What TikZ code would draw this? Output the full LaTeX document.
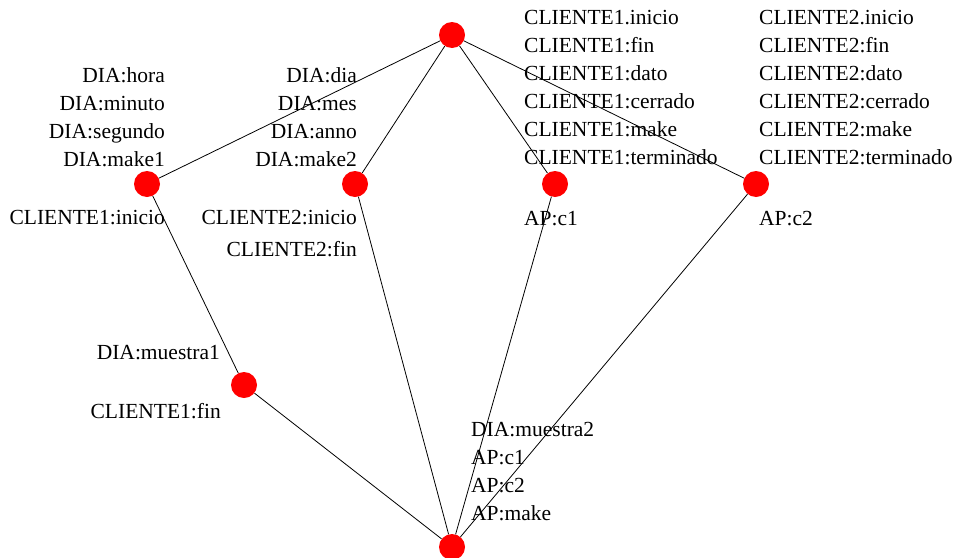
\documentclass[tikz,border=0pt]{standalone}
\usepackage{fontspec}
\setmainfont{Liberation Serif}

\begin{document}
\begin{tikzpicture}[x=1pt,y=-1pt,
  st/.style={circle,fill=red,inner sep=0pt,minimum size=26pt},
  lbl/.style={inner sep=0pt,font=\fontsize{21.5}{28}\selectfont},
  lblr/.style={lbl,align=right,anchor=east},
  lbll/.style={lbl,align=left,anchor=west},
  ln/.style={line width=0.8pt}]
\useasboundingbox (0,0) rectangle (955,557);
\node[st] (top) at (452,35) {};
\node[st] (dia1) at (147,184) {};
\node[st] (dia2) at (355,184) {};
\node[st] (cli1) at (555,184) {};
\node[st] (cli2) at (756,184) {};
\node[st] (mue) at (244,385) {};
\node[st] (ap) at (452,547) {};
\draw[ln] (top)--(dia1);
\draw[ln] (top)--(dia2);
\draw[ln] (top)--(cli1);
\draw[ln] (top)--(cli2);
\draw[ln] (dia1)--(mue);
\draw[ln] (mue)--(ap);
\draw[ln] (dia2)--(ap);
\draw[ln] (cli1)--(ap);
\draw[ln] (cli2)--(ap);
% etiquetas
\node[lblr] (dia1in) at (165,117) {DIA:hora\\DIA:minuto\\DIA:segundo\\DIA:make1};
\node[lblr] (dia1out) at (165,218) {CLIENTE1:inicio};
\node[lblr] (dia2in) at (357,117) {DIA:dia\\DIA:mes\\DIA:anno\\DIA:make2};
\node[lblr] (dia2out) at (357,234) {CLIENTE2:inicio\\[4pt]CLIENTE2:fin};
\node[lbll] (cli1in) at (524,88) {CLIENTE1.inicio\\CLIENTE1:fin\\CLIENTE1:dato\\CLIENTE1:cerrado\\CLIENTE1:make\\CLIENTE1:terminado};
\node[lbll] (cli1out) at (524,219) {AP:c1};
\node[lbll] (cli2in) at (759,88) {CLIENTE2.inicio\\CLIENTE2:fin\\CLIENTE2:dato\\CLIENTE2:cerrado\\CLIENTE2:make\\CLIENTE2:terminado};
\node[lbll] (cli2out) at (759,219) {AP:c2};
\node[lblr] (muein) at (220,353) {DIA:muestra1};
\node[lblr] (mueout) at (221,411) {CLIENTE1:fin};
\node[lbll] (apin) at (471,472) {DIA:muestra2\\AP:c1\\AP:c2\\AP:make};
\end{tikzpicture}
\end{document}
